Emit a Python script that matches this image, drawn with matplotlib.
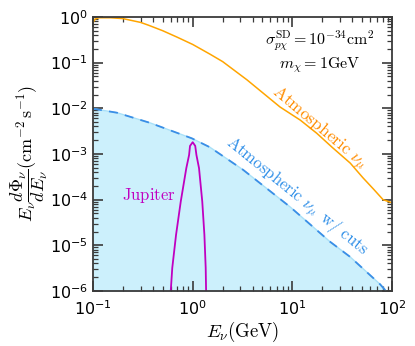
import matplotlib

matplotlib.use("Agg")
import matplotlib.pyplot as plt
import numpy as np

plt.rcParams["axes.unicode_minus"] = False

# Atmospheric nu_mu flux
atm_E = [0.1, 0.105, 0.115, 0.15, 0.2, 0.3, 0.36, 0.5, 0.7, 1.0, 1.2, 1.5, 2.0,
         3.5, 7.5, 12.0, 17.5, 25.0, 38.0, 51.0, 65.0, 81.0, 100.0]
atm_flux = [0.75, 0.9, 0.96, 0.96, 0.92, 0.76, 0.66, 0.5, 0.36, 0.25, 0.2, 0.152,
            0.105, 0.042, 0.0107, 0.0055, 0.00285, 0.0014, 6.3e-4, 3.0e-4,
            1.7e-4, 1.0e-4, 8.5e-5]

# Atmospheric nu_mu after cuts
cut_E = [0.1, 0.174, 0.373, 0.98, 1.49, 3.2, 9.5, 23.8, 37.8, 75.7, 100.0]
cut_flux = [9.8e-3, 8.0e-3, 4.8e-3, 2.2e-3, 1.4e-3, 4.5e-4, 6.9e-5, 1.2e-5,
            5.6e-6, 1.4e-6, 7e-7]

# Jupiter signal
jup_E = [0.59, 0.624, 0.681, 0.759, 0.863, 0.92, 0.94, 1.0, 1.06, 1.09, 1.157,
         1.247, 1.31, 1.35, 1.37]
jup_flux = [5e-7, 3.2e-6, 1.7e-5, 9.1e-5, 4.9e-4, 9.5e-4, 1.5e-3, 1.81e-3,
            1.5e-3, 9.5e-4, 4.9e-4, 9.1e-5, 1.7e-5, 3.2e-6, 5e-7]

fig = plt.figure(figsize=(4.15, 3.46), dpi=100)
ax = fig.add_axes([0.224, 0.159, 0.721, 0.792])

ax.fill_between(cut_E, cut_flux, 1e-7, color="#ccf0fc", lw=0)
ax.plot(cut_E, cut_flux, color="#a8e0f8", lw=1.0)
ax.plot(cut_E, cut_flux, color="#3a8ee6", lw=1.3, dashes=(5, 4))
ax.plot(atm_E, atm_flux, color="#ffa500", lw=1.1)
ax.plot(jup_E, jup_flux, color="#c000c0", lw=1.3)

ax.set_xscale("log")
ax.set_yscale("log")
ax.set_xlim(0.1, 100)
ax.set_ylim(1e-6, 1)

for s in ax.spines.values():
    s.set_color("#3a3a3a")
    s.set_linewidth(1.3)
ax.tick_params(which="both", direction="in", top=True, right=True,
               color="#3a3a3a", labelsize=11.5)
ax.tick_params(which="major", length=7, width=1.2)
ax.tick_params(which="minor", length=3.5, width=0.9)
ax.tick_params(axis="x", pad=6)

ax.set_xlabel(r"$E_\nu(\mathrm{GeV})$", fontsize=13.5, math_fontfamily="cm",
              labelpad=1)
ax.set_ylabel(r"$E_\nu\dfrac{d\Phi_\nu}{dE_\nu}(\mathrm{cm}^{-2}\,\mathrm{s}^{-1})$",
              fontsize=13, math_fontfamily="cm", labelpad=0)

ax.text(0.759, 0.872,
        "$\\sigma_{p\\chi}^{\\mathrm{SD}}=10^{-34}\\mathrm{cm}^2$\n$m_\\chi=1\\mathrm{GeV}$",
        transform=ax.transAxes, ha="center", va="center", fontsize=11.5,
        math_fontfamily="cm", linespacing=1.2)
ax.text(0.755, 0.596, r"$\mathrm{Atmospheric}\ \nu_\mu$", transform=ax.transAxes,
        ha="center", va="center", rotation=-40, rotation_mode="anchor",
        color="#ff8c00", fontsize=12.5, math_fontfamily="cm")
ax.text(0.68, 0.345, r"$\mathrm{Atmospheric}\ \nu_\mu\ \,\mathrm{w/\ cuts}$",
        transform=ax.transAxes, ha="center", va="center", rotation=-39,
        rotation_mode="anchor", color="#2f8fe8", fontsize=12, math_fontfamily="cm")
ax.text(0.187, 0.35, r"$\mathrm{Jupiter}$", transform=ax.transAxes,
        ha="center", va="center", color="#c000c0", fontsize=12,
        math_fontfamily="cm")

fig.savefig("out.png", dpi=100)
